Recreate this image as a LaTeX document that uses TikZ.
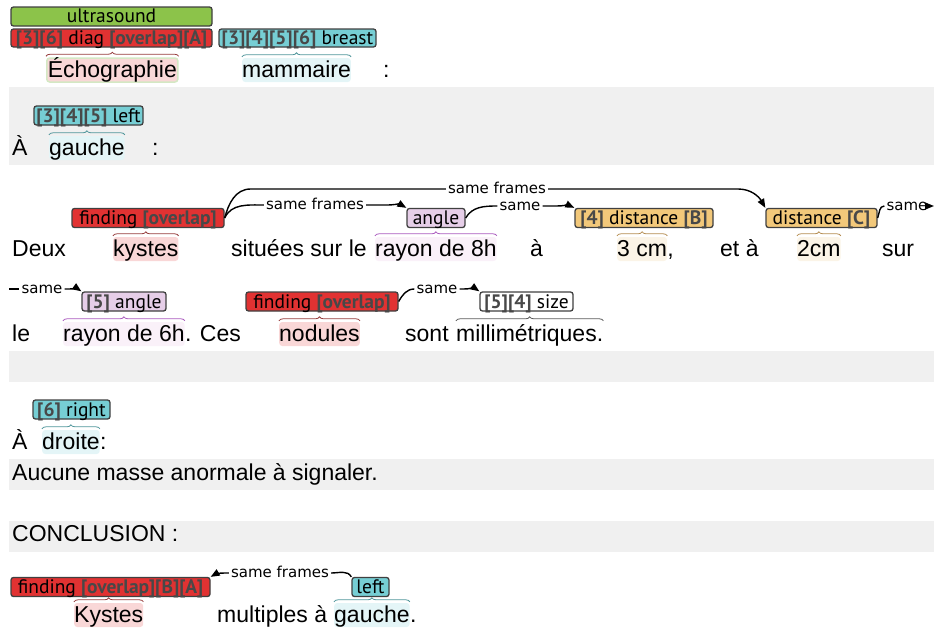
\documentclass[tikz,border=0pt]{standalone}
\usepackage{fontspec}
\setmainfont{Liberation Sans}
\newfontfamily\labfont{PT Sans}
\newfontfamily\arcfont{DejaVu Sans}
\usepackage{tikz}
\usetikzlibrary{decorations.pathreplacing}
\usetikzlibrary{arrows.meta}

\definecolor{bandgray}{RGB}{240,240,240}
\definecolor{boxline}{RGB}{64,64,64}
\definecolor{bktgray}{RGB}{72,72,72}
\definecolor{usgreen}{RGB}{140,195,74}
\definecolor{findred}{RGB}{225,50,50}
\definecolor{labcyan}{RGB}{118,206,212}
\definecolor{anglelilac}{RGB}{230,206,232}
\definecolor{distorange}{RGB}{242,200,122}
\definecolor{hlpink}{RGB}{249,215,215}
\definecolor{hlgreen}{RGB}{212,232,196}
\definecolor{hlcyan}{RGB}{228,245,247}
\definecolor{hllilac}{RGB}{250,241,249}
\definecolor{hlorange}{RGB}{251,244,231}
\definecolor{brred}{RGB}{150,60,60}
\definecolor{brteal}{RGB}{80,150,155}
\definecolor{brpurple}{RGB}{170,90,190}
\definecolor{brbrown}{RGB}{180,140,80}
\definecolor{brgray}{RGB}{90,90,90}

\newcommand{\bkt}[1]{{\bfseries\color{bktgray}#1}}

\tikzset{
	word/.style={anchor=base west, inner xsep=0pt, inner ysep=1pt, text height=18pt, text depth=4pt, rounded corners=3pt, font=\fontsize{23}{27}\selectfont},
	lab/.style={draw=boxline, line width=1.3pt, rounded corners=2.5pt, minimum height=19pt, inner xsep=1pt, inner ysep=0pt, text height=13.5pt, text depth=0.5pt, font=\labfont\fontsize{19.5}{21}\selectfont},
	arclab/.style={inner xsep=2pt, inner ysep=1pt, text height=8pt, text depth=0pt, font=\arcfont\fontsize{15}{17}\selectfont},
	arcl/.style={line width=1.4pt},
	arca/.style={arcl, -{Stealth[length=9pt, width=7pt, inset=0pt]}},
	brc/.style={decorate, decoration={brace, amplitude=4pt, raise=1pt}, line width=0.8pt}
}

\begin{document}
\begin{tikzpicture}[x=1pt, y=1pt]
			\useasboundingbox (0,0) rectangle (934,-629);
			% bands
			\fill[bandgray] (9,-87) rectangle (934,-165);
			\fill[bandgray] (9,-351) rectangle (934,-382);
			\fill[bandgray] (9,-459) rectangle (934,-490);
			\fill[bandgray] (9,-521) rectangle (934,-552);

			% row 1
			\node at (46,-77) [word, fill=hlpink, draw=hlgreen, line width=1.5pt, inner xsep=1pt] (echo1) {Échographie};
			\node at (242,-77) [word, fill=hlcyan] (mamm1) {mammaire};
			\node at (383,-77) [word] (colon1) {:};
			\node at (111.5,-16.5) [lab, fill=usgreen, minimum width=201pt] (us1) {ultrasound};
			\node at (111.5,-38) [lab, fill=findred, minimum width=201pt, minimum height=18pt] (diag1) {\bkt{[3][6]} diag \bkt{[overlap][A]}};
			\node at (297.5,-38) [lab, fill=labcyan, minimum width=157pt, minimum height=18pt] (breast1) {\bkt{[3][4][5][6]} breast};
			\draw[brc, brred] (echo1.north west) -- (echo1.north east);
			\draw[brc, brteal] (mamm1.north west) -- (mamm1.north east);

			% row 2
			\node at (12,-155) [word] (a2) {À};
			\node at (49,-155) [word, fill=hlcyan] (gauche2) {gauche};
			\node at (152,-155) [word] (colon2) {:};
			\node at (88.5,-115.5) [lab, fill=labcyan, minimum width=109pt] (left2) {\bkt{[3][4][5]} left};
			\draw[brc, brteal] (gauche2.north west) -- (gauche2.north east);

			% row 3
			\node at (12,-256) [word] (deux3) {Deux};
			\node at (113,-256) [word, fill=hlpink] (kystes3) {kystes};
			\node at (231,-256) [word] (situees3) {situées sur le};
			\node at (375,-256) [word, fill=hllilac] (rayon3) {rayon de 8h};
			\node at (530,-256) [word] (a3) {à};
			\node at (617,-256) [word, fill=hlorange] (cm3) {3 cm};
			\node at (cm3.base east) [word] (comma3) {,};
			\node at (720,-256) [word] (eta3) {et à};
			\node at (797,-256) [word, fill=hlorange] (twocm3) {2cm};
			\node at (882,-256) [word] (sur3) {sur};
			\node at (148,-218) [lab, fill=findred, minimum width=152pt] (find3) {finding \bkt{[overlap]}};
			\node at (436,-218) [lab, fill=anglelilac, minimum width=58pt] (angle3) {angle};
			\node at (644,-218) [lab, fill=distorange, minimum width=138pt] (distb3) {\bkt{[4]} distance \bkt{[B]}};
			\node at (821.5,-218) [lab, fill=distorange, minimum width=111pt] (distc3) {distance \bkt{[C]}};
			\draw[brc, brred] (kystes3.north west) -- (kystes3.north east);
			\draw[brc, brpurple] (rayon3.north west) -- (rayon3.north east);
			\draw[brc, brbrown] (cm3.north west) -- (cm3.north east);
			\draw[brc, brbrown] (twocm3.north west) -- (twocm3.north east);
			\node at (315,-205) [arclab] (sf3a) {same frames};
			\node at (497,-189) [arclab] (sf3b) {same frames};
			\node at (520,-206) [arclab] (sm3a) {same};
			\node at (907,-206) [arclab] (sm3b) {same};
			\coordinate (edge3) at (934,-206);
			\draw[arcl] (find3.east) to[out=65, in=180] (sf3a.west);
			\draw[arca] (sf3a.east) -- ++(20,0) to[out=0, in=150] (angle3.north west);
			\draw[arcl] (find3.east) to[out=75, in=180] ++(26,29) -- (sf3b.west);
			\draw[arca] (sf3b.east) -- ++(190,0) to[out=0, in=120] (distc3.north west);
			\draw[arcl] (angle3.east) to[out=60, in=180] (sm3a.west);
			\draw[arca] (sm3a.east) -- ++(14,0) to[out=0, in=155] (distb3.north west);
			\draw[arcl] (distc3.east) to[out=70, in=180] (sm3b.west);
			\draw[arca] (sm3b.east) -- (edge3);

			% row 4
			\node at (12,-341) [word] (le4) {le};
			\node at (63,-341) [word, fill=hllilac] (rayon4) {rayon de 6h};
			\node at (rayon4.base east) [word] (ces4) {. Ces};
			\node at (279,-341) [word, fill=hlpink] (nodules4) {nodules};
			\node at (405,-341) [word] (sont4) {sont};
			\node at (456,-341) [word] (milli4) {millimétriques.};
			\node at (124,-301.5) [lab, fill=anglelilac, minimum width=84pt] (angle4) {\bkt{[5]} angle};
			\node at (322,-301.5) [lab, fill=findred, minimum width=152pt] (find4) {finding \bkt{[overlap]}};
			\node at (526.5,-301.5) [lab, fill=white, minimum width=93pt] (size4) {\bkt{[5][4]} size};
			\draw[brc, brpurple] (rayon4.north west) -- (rayon4.north east);
			\draw[brc, brred] (nodules4.north west) -- (nodules4.north east);
			\draw[brc, brgray] (milli4.north west) -- (milli4.north east);
			\coordinate (edge4) at (9,-289);
			\node at (42,-289) [arclab] (sm4a) {same};
			\node at (437,-289) [arclab] (sm4b) {same};
			\draw[arcl] (edge4) -- (sm4a.west);
			\draw[arca] (sm4a.east) -- ++(4,0) to[out=0, in=145] (angle4.north west);
			\draw[arcl] (find4.east) to[out=60, in=180] (sm4b.west);
			\draw[arca] (sm4b.east) -- ++(4,0) to[out=0, in=145] (size4.north west);

			% row 6
			\node at (12,-449) [word] (a6) {À};
			\node at (42,-449) [word, fill=hlcyan] (droite6) {droite};
			\node at (droite6.base east) [word] (colon6) {:};
			\node at (71.5,-409.5) [lab, fill=labcyan, minimum width=77pt] (right6) {\bkt{[6]} right};
			\draw[brc, brteal] (droite6.north west) -- (droite6.north east);

			% rows 7, 8
			\node at (12,-480) [word] (aucune7) {Aucune masse anormale à signaler.};
			\node at (12,-541) [word] (concl8) {CONCLUSION :};

			% row 9
			\node at (74,-622) [word, fill=hlpink] (kystes9) {Kystes};
			\node at (217,-622) [word] (mult9) {multiples à};
			\node at (334,-622) [word, fill=hlcyan] (gauche9) {gauche};
			\node at (gauche9.base east) [word] (dot9) {.};
			\node at (110.5,-587) [lab, fill=findred, minimum width=199pt] (find9) {finding \bkt{[overlap][B][A]}};
			\node at (370.5,-587) [lab, fill=labcyan, minimum width=37pt] (left9) {left};
			\draw[brc, brred] (kystes9.north west) -- (kystes9.north east);
			\draw[brc, brteal] (gauche9.north west) -- (gauche9.north east);
			\node at (280,-573) [arclab] (sf9) {same frames};
			\draw[arcl] (left9.north west) to[out=120, in=0] (sf9.east);
			\draw[arca] (sf9.west) -- ++(-4,0) to[out=180, in=30] (find9.north east);
\end{tikzpicture}
\end{document}
